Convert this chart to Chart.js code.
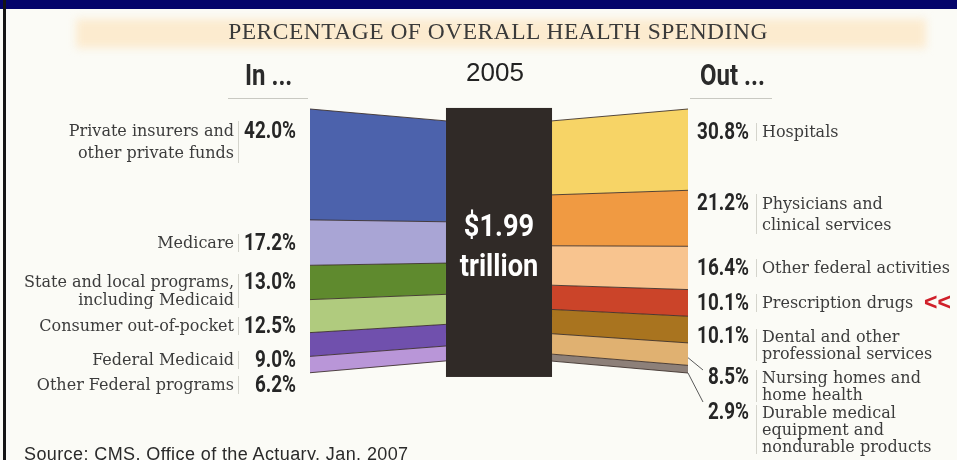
<!DOCTYPE html>
<html>
<head>
<meta charset="utf-8">
<script src="https://cdn.jsdelivr.net/npm/chart.js"></script>
<style>
  html, body { margin: 0; padding: 0; }
  body { width: 957px; height: 460px; position: relative; overflow: hidden; background: #fbfbf6; font-family: "DejaVu Serif", serif; color: #3a3a3a; }
  #topbar { position: absolute; left: 0; top: 0; width: 957px; height: 9px; background: #04046a; }
  #edge { position: absolute; left: 3px; top: 0; width: 3px; height: 460px; background: #151515; }
  #band { position: absolute; left: 76px; top: 19px; width: 850px; height: 29px; background: #fcebcf; filter: blur(4px); }
  #chart { position: absolute; left: 0; top: 0; }
  .t { position: absolute; white-space: nowrap; }
  #title { left: 0; width: 996px; top: 18px; text-align: center; font-family: "Liberation Serif", serif; font-size: 23.5px; letter-spacing: 0.5px; color: #3a3a3a; }
  .cond { font-family: Roboto, sans-serif; font-weight: 700; }
  .head { font-size: 30px; color: #2a2a2a; top: 57px; transform: scaleX(0.8); transform-origin: left center; }
  .rule { position: absolute; height: 1px; background: #c9c9c2; }
  #year { left: 466px; top: 57px; font-family: "Liberation Sans", sans-serif; font-size: 26px; color: #222; }
  .lab { font-size: 16px; color: #3c3c3c; }
  .pct { font-size: 23px; line-height: 26px; color: #262626; text-align: right; width: 80px; transform: scaleX(0.82); transform-origin: right center; }
  .sep { position: absolute; width: 1px; background: #d4d4cc; }
  .box { color: #fff; font-size: 32px; text-align: center; width: 106px; left: 446px; transform: scaleX(0.85); transform-origin: center; }
  #source { left: 24px; top: 444px; font-family: "Liberation Sans", sans-serif; font-size: 18px; letter-spacing: 0.4px; color: #2a2a2a; }
  #mark { left: 924px; top: 289px; font-family: "Liberation Sans", sans-serif; font-weight: bold; font-size: 23px; color: #d0202a; }
</style>
</head>
<body>
<div id="topbar"></div>
<div id="edge"></div>
<div id="band"></div>
<canvas id="chart" width="957" height="460"></canvas>
<div class="t" id="title">PERCENTAGE OF OVERALL HEALTH SPENDING</div>
<div class="t cond head" style="left:245px">In ...</div>
<div class="rule" style="left:228px;top:98px;width:80px"></div>
<div class="t cond head" style="left:700px">Out ...</div>
<div class="rule" style="left:690px;top:98px;width:82px"></div>
<div class="t" id="year">2005</div>
<div class="t cond box" style="top:206px">$1.99</div>
<div class="t cond box" style="top:246px">trillion</div>
<div class="t" id="mark">&lt;&lt;</div>
<div class="t" id="source">Source: CMS, Office of the Actuary, Jan. 2007</div>
<script>
// where the money comes from
const inNames = [
  ['Private insurers and', 'other private funds'],
  ['Medicare'],
  ['State and local programs,', 'including Medicaid'],
  ['Consumer out-of-pocket'],
  ['Federal Medicaid'],
  ['Other Federal programs']
];
const inValues = [42.0, 17.2, 13.0, 12.5, 9.0, 6.2];

// where it goes
const outNames = [
  ['Hospitals'],
  ['Physicians and', 'clinical services'],
  ['Other federal activities'],
  ['Prescription drugs'],
  ['Dental and other', 'professional services'],
  ['Nursing homes and', 'home health'],
  ['Durable medical', 'equipment and', 'nondurable products']
];
const outValues = [30.8, 21.2, 16.4, 10.1, 10.1, 8.5, 2.9];

const inColors = ['#4c62ac', '#a9a5d5', '#5f8a2e', '#b0cb7e', '#7050ad', '#b996d8'];
const outColors = ['#f7d466', '#f09a42', '#f8c48f', '#cb4429', '#a9741f', '#e0b171', '#8d8079'];

// label placement: [centre of first line, line spacing]
const inLabelPos = [[131, 22], [243, 20], [282, 18], [326, 20], [360, 20], [385, 20]];
const outLabelPos = [[132, 20], [203, 21], [268, 20], [303, 20], [336, 17], [377, 17], [412, 17]];

// x positions of the wedge edges (outer edge to the box side)
const X_IN_OUTER = 0, X_IN_INNER = 1, X_OUT_INNER = 1.78, X_OUT_OUTER = 2.78;
const TAPER = 0.91;
const inner = v => 50 + (v - 50) * TAPER;

function wedge(values, colors, xOuter, xInner, first) {
  let cum = 0;
  const sets = [{ data: [{ x: xOuter, y: 0 }, { x: xInner, y: inner(0) }], fill: false }];
  values.forEach((v, i) => {
    cum += v;
    sets.push({
      data: [{ x: xOuter, y: cum }, { x: xInner, y: inner(cum) }],
      fill: first + i,
      backgroundColor: colors[i]
    });
  });
  return sets;
}

const inSets = wedge(inValues, inColors, X_IN_OUTER, X_IN_INNER, 0);
const outSets = wedge(outValues, outColors, X_OUT_OUTER, X_OUT_INNER, inSets.length);
const datasets = inSets.concat(outSets).map(d => Object.assign({
  borderColor: 'rgba(55,42,38,0.85)', borderWidth: 1, pointRadius: 0, clip: false
}, d));

// the dark total box in the middle, and leader lines for the two thin bands
const centerBox = {
  id: 'centerBox',
  afterDatasetsDraw(chart) {
    const { ctx, scales: { x, y } } = chart;
    ctx.save();
    ctx.fillStyle = '#302a27';
    const x0 = x.getPixelForValue(X_IN_INNER), x1 = x.getPixelForValue(X_OUT_INNER);
    const y0 = y.getPixelForValue(-0.4), y1 = y.getPixelForValue(101.5);
    ctx.fillRect(x0, y0, x1 - x0, y1 - y0);

    ctx.strokeStyle = '#5a5a5a';
    ctx.lineWidth = 1;
    const xo = x.getPixelForValue(X_OUT_OUTER);
    const leaders = [[5, 0.66, 703, 370], [6, 1.0, 703, 402]];
    leaders.forEach(([i, frac, ex, ey]) => {
      const start = outValues.slice(0, i).reduce((a, b) => a + b, 0) + outValues[i] * frac;
      ctx.beginPath();
      ctx.moveTo(xo, y.getPixelForValue(start));
      ctx.lineTo(ex, ey);
      ctx.stroke();
    });
    ctx.restore();
  }
};

new Chart(document.getElementById('chart'), {
  type: 'line',
  data: { datasets },
  options: {
    responsive: false,
    animation: false,
    layout: { padding: { left: 310, right: 269, top: 109, bottom: 87 } },
    scales: {
      x: { type: 'linear', min: X_IN_OUTER, max: X_OUT_OUTER, display: false },
      y: { min: 0, max: 100, reverse: true, display: false }
    },
    plugins: { legend: { display: false }, tooltip: { enabled: false } }
  },
  plugins: [centerBox]
});

// text labels beside the wedges
function addLabels(names, values, pos, side) {
  names.forEach((lines, i) => {
    const [cy, lh] = pos[i];
    const top = cy - lh / 2;
    const lab = document.createElement('div');
    lab.className = 't lab';
    lab.style.top = top + 'px';
    lab.style.lineHeight = lh + 'px';
    lab.innerHTML = lines.join('<br>');
    const pct = document.createElement('div');
    pct.className = 't cond pct';
    pct.style.top = (cy - 13) + 'px';
    pct.textContent = values[i].toFixed(1) + '%';
    const sep = document.createElement('div');
    sep.className = 'sep';
    sep.style.top = (top + 1) + 'px';
    sep.style.height = (lines.length * lh - 2) + 'px';
    if (side === 'in') {
      lab.style.right = (957 - 234) + 'px';
      lab.style.textAlign = 'right';
      pct.style.left = (296 - 80) + 'px';
      sep.style.left = '238px';
    } else {
      lab.style.left = '762px';
      pct.style.left = (749 - 80) + 'px';
      sep.style.left = '756px';
    }
    document.body.append(lab, pct, sep);
  });
}
addLabels(inNames, inValues, inLabelPos, 'in');
addLabels(outNames, outValues, outLabelPos, 'out');
</script>
</body>
</html>
